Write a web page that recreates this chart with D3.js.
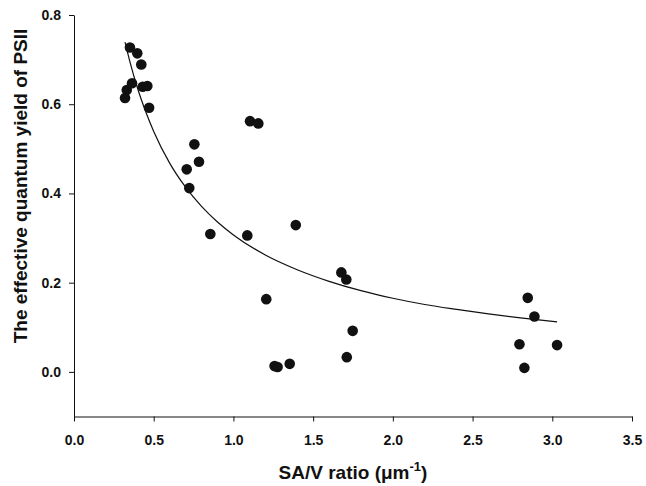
<!DOCTYPE html>
<html>
<head>
<meta charset="utf-8">
<script src="https://cdn.jsdelivr.net/npm/d3@7"></script>
<style>
  html, body { margin: 0; padding: 0; background: #fff; }
  svg { display: block; }
  text { font-family: "Liberation Sans", Arial, Helvetica, sans-serif; font-weight: bold; fill: #111; }
</style>
</head>
<body>
<svg id="chart" width="646" height="486"></svg>
<script>
// Observed data points (SA/V ratio, effective quantum yield of PSII)
const saV = [0.351, 0.397, 0.422, 0.364, 0.331, 0.320, 0.431, 0.460, 0.471,
             1.104, 1.156, 0.755, 0.784, 0.707, 0.723, 0.855, 1.087, 1.391,
             1.677, 1.708, 1.206, 1.748, 1.711, 1.258, 1.277, 1.353,
             2.846, 2.888, 2.794, 3.030, 2.825];
const yieldPSII = [0.727, 0.714, 0.689, 0.647, 0.632, 0.614, 0.639, 0.641, 0.592,
                   0.562, 0.557, 0.510, 0.471, 0.454, 0.412, 0.309, 0.306, 0.329,
                   0.223, 0.207, 0.163, 0.092, 0.033, 0.013, 0.011, 0.018,
                   0.166, 0.124, 0.062, 0.060, 0.009];

// Fitted curve
const curveX = [0.32, 0.35, 0.40, 0.45, 0.50, 0.60, 0.70, 0.80, 0.90, 1.00,
                1.20, 1.40, 1.60, 1.80, 2.00, 2.20, 2.40, 2.60, 2.80, 3.03];
const curveY = [0.739, 0.696, 0.634, 0.583, 0.539, 0.468, 0.414, 0.371, 0.336, 0.307,
                0.262, 0.229, 0.203, 0.182, 0.165, 0.151, 0.140, 0.130, 0.121, 0.112];

// Tick values
const xTicks = [0, 0.5, 1.0, 1.5, 2.0, 2.5, 3.0, 3.5];
const yTicks = [0, 0.2, 0.4, 0.6, 0.8];

const xTitle = "SA/V ratio (";
const yTitle = "The effective quantum yield of PSII";

const svg = d3.select("#chart");

const x = d3.scaleLinear().domain([0, 3.5]).range([74, 632]);
const y = d3.scaleLinear().domain([-0.1, 0.8]).range([416.5, 15]);

// Axes
const xAxis = d3.axisBottom(x).tickValues(xTicks).tickFormat(d3.format(".1f"))
  .tickSize(5).tickSizeOuter(0).tickPadding(14);
const yAxis = d3.axisLeft(y).tickValues(yTicks).tickFormat(d3.format(".1f"))
  .tickSize(5).tickSizeOuter(0).tickPadding(8);

const gx = svg.append("g").attr("transform", `translate(0,${y(-0.1)})`).call(xAxis);
const gy = svg.append("g").attr("transform", `translate(${x(0)},0)`).call(yAxis);

[gx, gy].forEach(g => {
  g.selectAll("path, line").attr("stroke", "#111").attr("stroke-width", 1);
  g.selectAll("text").attr("font-size", 14).attr("font-family", null).style("fill", "#111");
});

// Fitted curve
const pts = curveX.map((v, i) => [v, curveY[i]]);
svg.append("path")
  .datum(pts)
  .attr("fill", "none")
  .attr("stroke", "#111")
  .attr("stroke-width", 1.2)
  .attr("d", d3.line().x(d => x(d[0])).y(d => y(d[1])).curve(d3.curveMonotoneX));

// Points
svg.append("g").selectAll("circle")
  .data(saV.map((v, i) => [v, yieldPSII[i]]))
  .join("circle")
  .attr("cx", d => x(d[0]))
  .attr("cy", d => y(d[1]))
  .attr("r", 5.3)
  .attr("fill", "#111");

// X title
const xt = svg.append("text")
  .attr("x", 353).attr("y", 479)
  .attr("text-anchor", "middle")
  .attr("font-size", 19);
xt.append("tspan").text(xTitle);
xt.append("tspan").text("\u03BCm");
xt.append("tspan").attr("dy", -8).attr("font-size", 13).text("-1");
xt.append("tspan").attr("dy", 8).text(")");

// Y title
svg.append("text")
  .attr("transform", "translate(27,186) rotate(-90)")
  .attr("text-anchor", "middle")
  .attr("font-size", 19)
  .text(yTitle);
</script>
</body>
</html>
